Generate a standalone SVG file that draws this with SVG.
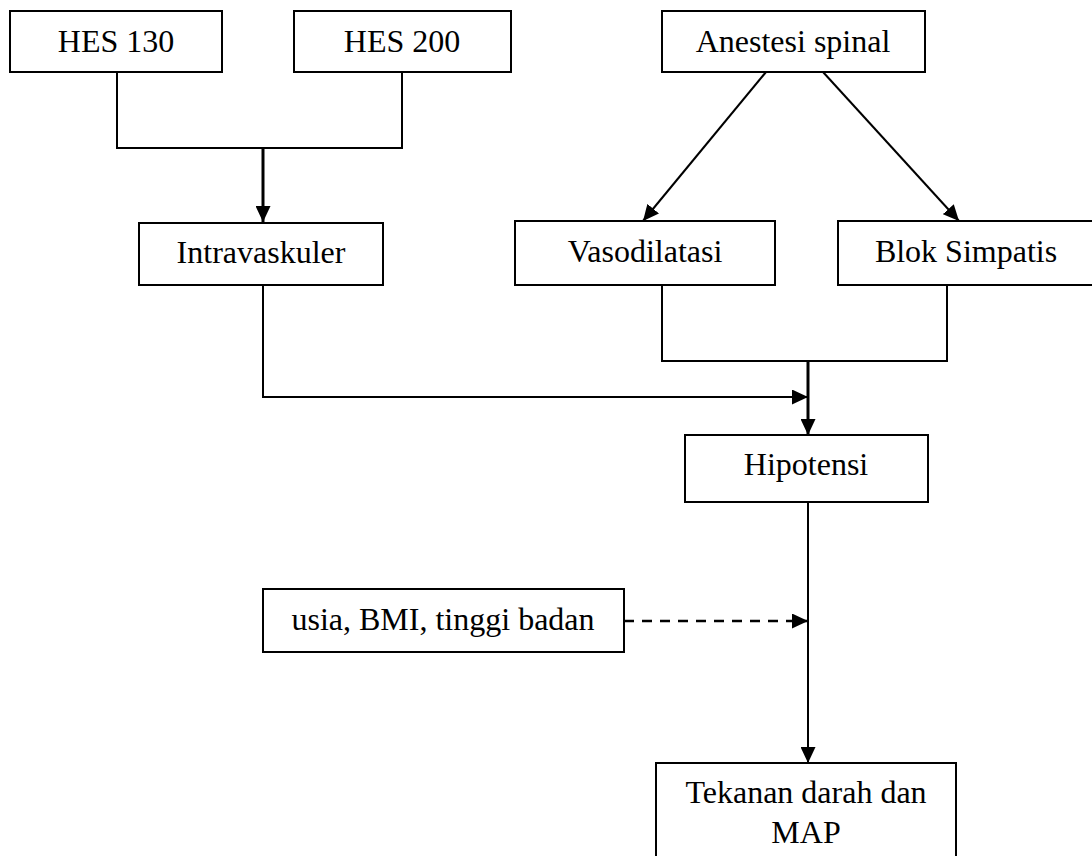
<svg xmlns="http://www.w3.org/2000/svg" width="1092" height="856" viewBox="0 0 1092 856">
<style>
.box{fill:#fff;stroke:#000;stroke-width:2}
.t{font-family:"Liberation Serif","Times New Roman",serif;font-size:32px;fill:#000;text-anchor:middle}
.c{fill:none;stroke:#000;stroke-width:2}
.thick{stroke-width:3}
.dash{stroke-width:2.5;stroke-dasharray:10,8}
</style>
<defs>
<marker id="ah" viewBox="0 0 16 15" refX="16" refY="7.5" markerWidth="16" markerHeight="15" markerUnits="userSpaceOnUse" orient="auto">
<path d="M0,0 L16,7.5 L0,15 z" fill="#000"/>
</marker>
</defs>
<rect width="1092" height="856" fill="#fff"/>
<g id="connectors">
<path class="c" d="M117,72 V148 H402 V72"/>
<path class="c thick" d="M263,148 V222" marker-end="url(#ah)"/>
<path class="c" d="M766,72 L643,221" marker-end="url(#ah)"/>
<path class="c" d="M823,72 L959,221" marker-end="url(#ah)"/>
<path class="c" d="M263,285 V397 H808" marker-end="url(#ah)"/>
<path class="c" d="M662,285 V361 H947 V285"/>
<path class="c thick" d="M808,361 V435" marker-end="url(#ah)"/>
<path class="c" d="M808,502 V763" marker-end="url(#ah)"/>
<path class="c dash" d="M624,621 H808" marker-end="url(#ah)"/>
</g>
<g id="hes130"><rect class="box" x="10" y="11" width="212" height="61"/><text class="t" x="116" y="52">HES 130</text></g>
<g id="hes200"><rect class="box" x="294" y="11" width="217" height="61"/><text class="t" x="402" y="52">HES 200</text></g>
<g id="anestesi"><rect class="box" x="662" y="11" width="263" height="61"/><text class="t" x="793" y="52">Anestesi spinal</text></g>
<g id="intravaskuler"><rect class="box" x="139" y="223" width="244" height="62"/><text class="t" x="261" y="263">Intravaskuler</text></g>
<g id="vasodilatasi"><rect class="box" x="515" y="221" width="260" height="64"/><text class="t" x="645" y="262">Vasodilatasi</text></g>
<g id="blok"><rect class="box" x="838" y="221" width="256" height="64"/><text class="t" x="966" y="262">Blok Simpatis</text></g>
<g id="hipotensi"><rect class="box" x="685" y="435" width="243" height="67"/><text class="t" x="806" y="475">Hipotensi</text></g>
<g id="faktor"><rect class="box" x="263" y="589" width="361" height="63"/><text class="t" x="443" y="630">usia, BMI, tinggi badan</text></g>
<g id="tekanan"><rect class="box" x="656" y="763" width="300" height="110"/><text class="t" x="806" y="803">Tekanan darah dan</text><text class="t" x="806" y="843">MAP</text></g>
</svg>
